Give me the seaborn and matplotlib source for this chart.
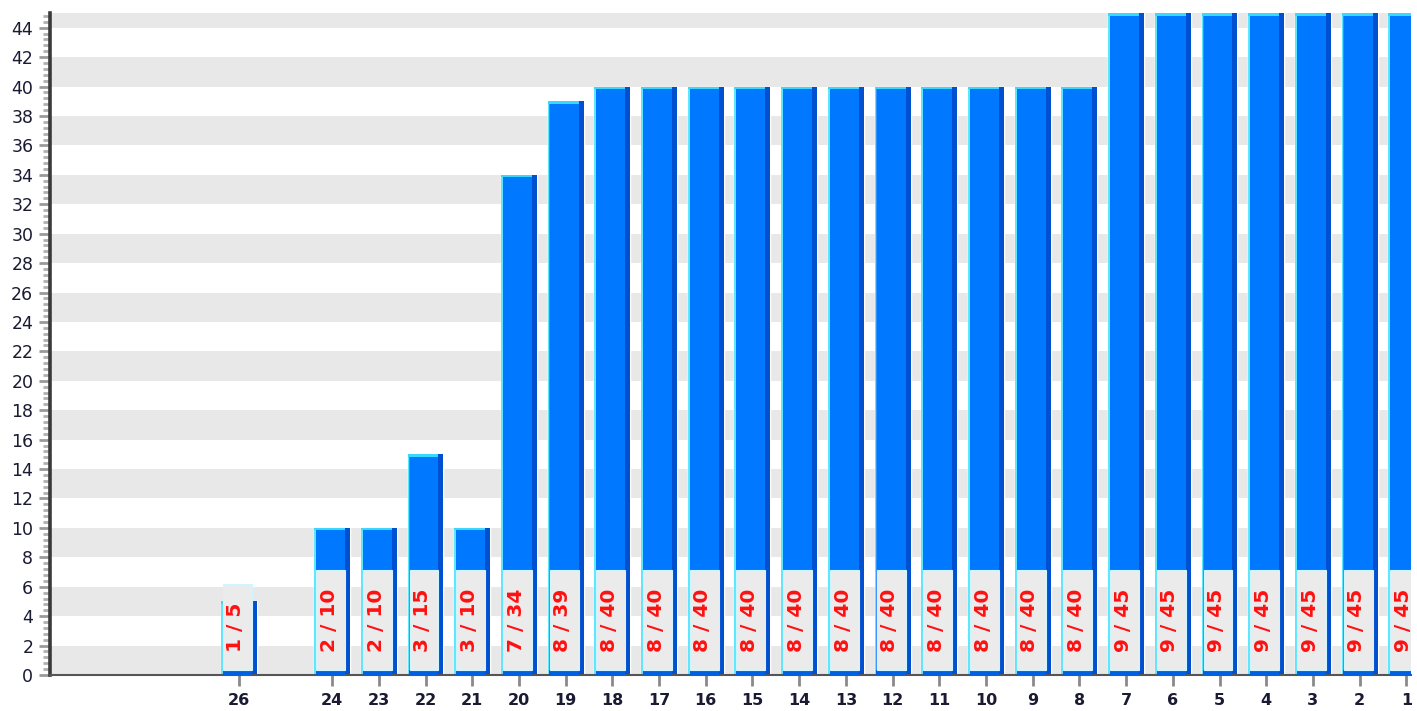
import numpy as np
import pandas as pd
import matplotlib
matplotlib.use("Agg")
from matplotlib import pyplot as plt
from matplotlib.patches import Rectangle
from matplotlib.ticker import MultipleLocator
import seaborn as sns

# slots along x, left to right (some have no bar)
slots = [str(i) for i in range(30, 0, -1)]
groups = ['26', '24', '23', '22', '21', '20', '19', '18', '17', '16', '15', '14',
          '13', '12', '11', '10', '9', '8', '7', '6', '5', '4', '3', '2', '1']
counts = [1, 2, 2, 3, 3, 7, 8, 8, 8, 8, 8, 8, 8, 8, 8, 8, 8, 8,
          9, 9, 9, 9, 9, 9, 9]
totals = [5, 10, 10, 15, 10, 34, 39, 40, 40, 40, 40, 40, 40, 40, 40, 40, 40, 40,
          45, 45, 45, 45, 45, 45, 45]

df = pd.DataFrame({'group': groups, 'count': counts, 'total': totals})

sns.set_style('white')
plt.rcParams['font.family'] = ['DejaVu Sans']

fig = plt.figure(figsize=(14.17, 7.11), dpi=100)
ax = fig.add_axes([50 / 1417, 36 / 711, 1361 / 1417, 662 / 711])

# striped background
for y0 in np.arange(0, 46, 4):
    ax.axhspan(y0, y0 + 2, color='#E8E8E8', lw=0, zorder=0)

sns.barplot(data=df, x='group', y='total', order=slots, color='#0078FF',
            saturation=1, width=0.77, errorbar=None, ax=ax, zorder=2)

ax.set_xlim(-0.04, 29.1)
ax.set_ylim(0, 45)

texts = []
for bar in ax.containers[0]:
    x0, w, h = bar.get_x(), bar.get_width(), bar.get_height()
    if not h:
        continue
    slot = slots[int(round(x0 + w / 2))]
    row = df[df['group'] == slot].iloc[0]
    # 3d-ish edges
    ax.add_patch(Rectangle((x0 + 0.86 * w, 0), 0.14 * w, h, fc='#0050D0', lw=0, zorder=2.5))
    ax.add_patch(Rectangle((x0, 0), 0.05 * w, h, fc='#5EE6FF', lw=0, zorder=2.5))
    ax.add_patch(Rectangle((x0, h - 0.17), 0.86 * w, 0.17, fc='#38D8FF', lw=0, zorder=2.6))
    ax.add_patch(Rectangle((x0 + 0.05 * w, 0), 0.81 * w, 0.34, fc='#0060E0', lw=0, zorder=2.6))
    t = ax.text(x0 + w / 2 - 0.06, 1.56, f"{row['count']} / {row['total']}",
                rotation=90, ha='center', va='bottom', color='#FF1010',
                fontsize=14.5, fontweight='bold', zorder=4)
    texts.append((t, x0, w))

# label boxes sized to the text
fig.canvas.draw()
rend = fig.canvas.get_renderer()
inv = ax.transData.inverted()
for t, x0, w in texts:
    bb = t.get_window_extent(rend)
    top = inv.transform((bb.x1, bb.y1 + 19))[1]
    ax.add_patch(Rectangle((x0 + 0.055 * w, 0.34), 0.805 * w, top - 0.34,
                           fc='#EBEBEB', ec='#CFF6FF', lw=0.8, zorder=3))

ax.yaxis.set_major_locator(MultipleLocator(2))
ax.yaxis.set_minor_locator(MultipleLocator(0.4))
ax.tick_params(axis='y', which='major', left=True, length=8, width=2,
               color='#9A9A9A', pad=4, labelsize=12.5, labelcolor='#1A1A33')
ax.tick_params(axis='y', which='minor', left=True, length=5, width=2, color='#B0B0B0')

pos = [slots.index(g) for g in groups]
ax.set_xticks(pos)
ax.set_xticklabels(groups, fontweight='bold')
ax.tick_params(axis='x', bottom=True, length=8, width=2, color='#8A8A8A',
               pad=5, labelsize=11.5, labelcolor='#1A1A33')

ax.set_xlabel('')
ax.set_ylabel('')
for s in ['top', 'right']:
    ax.spines[s].set_visible(False)
ax.spines['left'].set_linewidth(2.6)
ax.spines['left'].set_color('#3A3A3A')
ax.spines['bottom'].set_linewidth(1.5)
ax.spines['bottom'].set_color('#555555')

fig.savefig('out.png', dpi=100)
